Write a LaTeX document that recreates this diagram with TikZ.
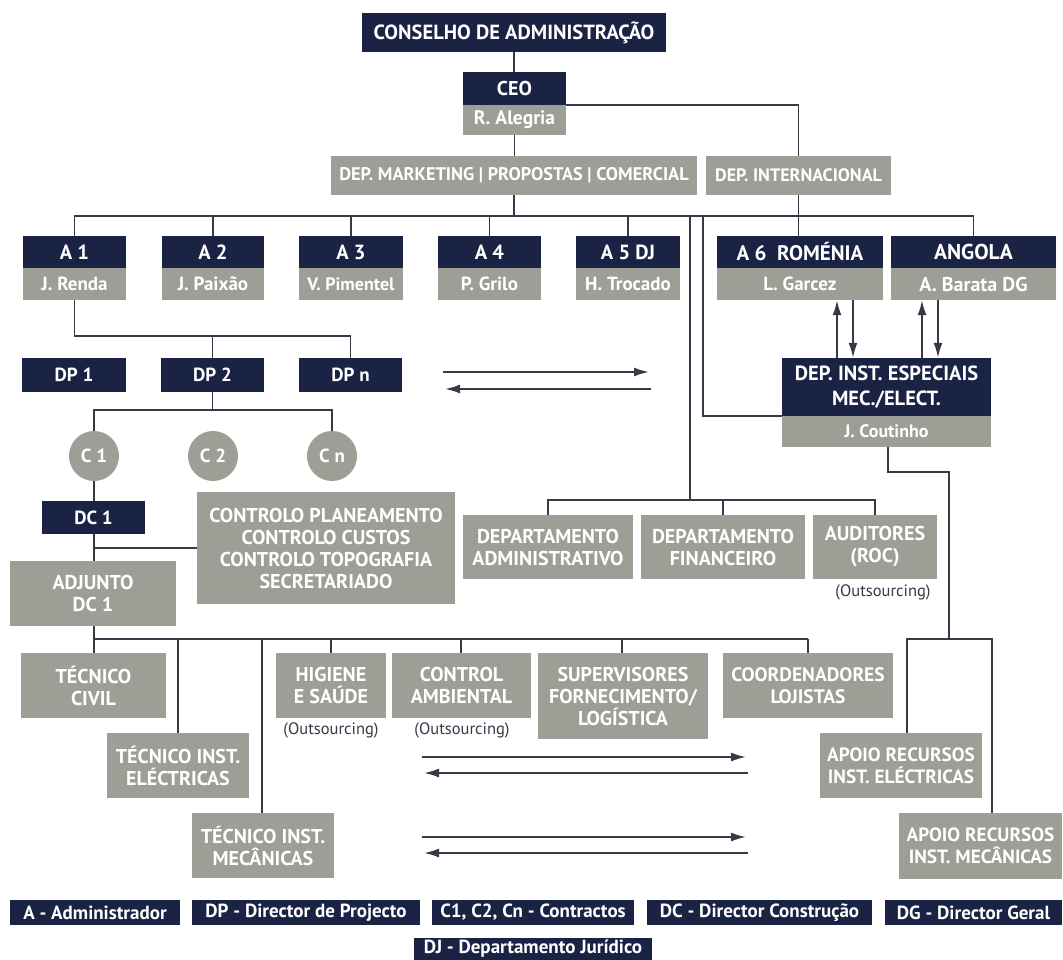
\documentclass[tikz,border=0pt]{standalone}
\usepackage{fontspec}
\setmainfont{PT Sans}
\usetikzlibrary{arrows.meta}
\definecolor{navy}{RGB}{27,35,68}
\definecolor{stone}{RGB}{158,158,150}
\definecolor{wirec}{RGB}{55,57,70}
\newcommand\mybox[7]{\node[#1,minimum width={(#5-#4)*1pt},minimum height={(#7-#6)*1pt}] (#2) at ({(#4+#5)/2},{(#6+#7)/2}) {#3};}
\begin{document}
\begin{tikzpicture}[x=1pt,y=-1pt,
  fsz/.style={font=\bfseries\fontsize{#1}{22}\selectfont},
  box/.style={rectangle,inner sep=0pt,align=center,text=white,fsz=19},
  nbox/.style={box,fill=navy},
  gbox/.style={box,fill=stone},
  bigg/.style={gbox,fsz=20},
  leg/.style={nbox,fsz=19},
  circ/.style={circle,fill=stone,text=white,inner sep=0pt,minimum size=50pt,fsz=19},
  wire/.style={draw=wirec,line width=1.8pt},
  arr/.style={wire,-{Latex[length=15pt,width=9pt]}},
  note/.style={inner sep=0pt,text=wirec,font=\fontsize{16.5}{18}\selectfont}]
\useasboundingbox (0,0) rectangle (1063,960);
\fill[white] (0,0) rectangle (1063,960);
% top
\mybox{nbox,fsz=20.5}{cons}{CONSELHO DE ADMINISTRAÇÃO}{362}{666}{13}{52}
\mybox{nbox,fsz=20}{ceo}{CEO}{463}{566}{72}{105}
\mybox{gbox,fsz=19.5}{ceoN}{R. Alegria}{463}{566}{105}{135}
\mybox{gbox,fsz=18.3}{mkt}{DEP. MARKETING | PROPOSTAS | COMERCIAL}{331}{697}{156}{195}
\mybox{gbox,fsz=18}{intl}{DEP. INTERNACIONAL}{706}{891}{156}{195}
% A row
\mybox{nbox,fsz=20.5}{a1}{A 1}{23}{126}{236}{268}
\mybox{gbox}{a1n}{J. Renda}{23}{126}{268}{300}
\mybox{nbox,fsz=20.5}{a2}{A 2}{162}{264}{236}{268}
\mybox{gbox}{a2n}{J. Paixão}{162}{264}{268}{300}
\mybox{nbox,fsz=20.5}{a3}{A 3}{299}{403}{236}{268}
\mybox{gbox,fsz=18}{a3n}{V. Pimentel}{299}{403}{268}{300}
\mybox{nbox,fsz=20.5}{a4}{A 4}{438}{541}{236}{268}
\mybox{gbox}{a4n}{P. Grilo}{438}{541}{268}{300}
\mybox{nbox,fsz=20.5}{a5}{A 5 DJ}{576}{680}{236}{268}
\mybox{gbox}{a5n}{H. Trocado}{576}{680}{268}{300}
\mybox{nbox,fsz=21}{a6}{A 6\enspace ROMÉNIA}{717}{883}{236}{268}
\mybox{gbox}{a6n}{L. Garcez}{717}{883}{268}{300}
\mybox{nbox,fsz=21.5}{ang}{ANGOLA}{891}{1056}{236}{268}
\mybox{gbox,fsz=20}{angn}{A. Barata DG}{891}{1056}{268}{300}
% DP row
\mybox{nbox}{dp1}{DP 1}{22}{126}{358}{392}
\mybox{nbox}{dp2}{DP 2}{161}{264}{358}{392}
\mybox{nbox}{dpn}{DP n}{299}{402}{358}{392}
\node[circ] (c1) at (94,456) {C 1};
\node[circ] (c2) at (213,456) {C 2};
\node[circ] (cn) at (332,456) {C n};
\mybox{nbox}{dc1}{DC 1}{42}{145}{501}{534}
\mybox{bigg}{ctrl}{CONTROLO PLANEAMENTO\\CONTROLO CUSTOS\\CONTROLO TOPOGRAFIA\\SECRETARIADO}{197}{455}{492}{604}
\mybox{bigg}{adj}{ADJUNTO\\DC 1}{10}{176}{561}{626}
% departments
\mybox{bigg}{adm}{DEPARTAMENTO\\ADMINISTRATIVO}{463}{633}{515}{579}
\mybox{bigg}{fin}{DEPARTAMENTO\\FINANCEIRO}{641}{805}{515}{579}
\mybox{bigg}{aud}{AUDITORES\\(ROC)}{813}{937}{515}{579}
\node[note] (audo) at (883,592) {(Outsourcing)};
\mybox{nbox,font=\bfseries\fontsize{20.5}{25}\selectfont}{dinst}{DEP. INST. ESPECIAIS\\MEC./ELECT.}{782}{991}{358}{416}
\mybox{gbox,fsz=18}{dinstn}{J. Coutinho}{782}{991}{416}{447}
% lower row
\mybox{bigg}{tciv}{TÉCNICO\\CIVIL}{21}{166}{653}{718}
\mybox{bigg}{tele}{TÉCNICO INST.\\ELÉCTRICAS}{107}{249}{733}{798}
\mybox{bigg}{tmec}{TÉCNICO INST.\\MECÂNICAS}{192}{334}{813}{878}
\mybox{bigg}{hig}{HIGIENE\\E SAÚDE}{276}{386}{653}{718}
\node[note] (higo) at (331,730) {(Outsourcing)};
\mybox{bigg}{amb}{CONTROL\\AMBIENTAL}{392}{531}{653}{718}
\node[note] (ambo) at (462,730) {(Outsourcing)};
\mybox{bigg}{sup}{SUPERVISORES\\FORNECIMENTO/\\LOGÍSTICA}{538}{708}{653}{739}
\mybox{bigg,fsz=19.5}{coord}{COORDENADORES\\LOJISTAS}{723}{893}{653}{718}
\mybox{bigg,fsz=19.2}{apel}{APOIO RECURSOS\\INST. ELÉCTRICAS}{820}{982}{733}{798}
\mybox{bigg,fsz=19.2}{apme}{APOIO RECURSOS\\INST. MECÂNICAS}{899}{1062}{813}{879}
% legend
\mybox{leg}{lga}{A - Administrador}{10}{180}{900}{925}
\mybox{leg}{lgdp}{DP - Director de Projecto}{192}{420}{900}{925}
\mybox{leg}{lgc}{C1, C2, Cn - Contractos}{432}{634}{900}{925}
\mybox{leg}{lgdc}{DC - Director Construção}{647}{872}{900}{925}
\mybox{leg}{lgdg}{DG - Director Geral}{885}{1062}{900}{925}
\mybox{leg}{lgdj}{DJ - Departamento Jurídico}{414}{652}{938}{960}
% connectors top
\draw[wire] (cons.south) -- (cons.south |- ceo.north);
\draw[wire] (ceoN.south) -- (ceoN.south |- mkt.north);
\draw[wire] (ceo.south east) -| (intl.north);
\draw[wire] (mkt.south) -- ++(0,21);
\draw[wire] (a1.north) -- ++(0,-20) -| (ang.north);
\foreach \n in {a2,a3,a4,a5} \draw[wire] (\n.north) -- ++(0,-20);
\draw[wire] (intl.south) -- (intl.south |- a6.north);
% verticals to departments and DEP INST
\coordinate (v1) at (690,216);
\coordinate (v2) at (703,216);
\coordinate (dbus) at (690,500);
\draw[wire] (v1) -- (dbus);
\draw[wire] (adm.north) |- (dbus) -| (aud.north);
\draw[wire] (fin.north) -- (fin.north |- dbus);
\draw[wire] (v2) |- (dinst.south west);
% arrows A6/Angola <-> DEP INST
\coordinate (u1) at (837,0); \coordinate (d1) at (853,0);
\coordinate (u2) at (922,0); \coordinate (d2) at (938,0);
\draw[arr] (u1 |- dinst.north) -- (u1 |- a6n.south);
\draw[arr] (d1 |- a6n.south) -- (d1 |- dinst.north);
\draw[arr] (u2 |- dinst.north) -- (u2 |- angn.south);
\draw[arr] (d2 |- angn.south) -- (d2 |- dinst.north);
% A1 -> DP
\draw[wire] (a1n.south) -- ++(0,36) -| (dpn.north);
\draw[wire] (dp2.north) -- ++(0,-22);
% DP2 -> C
\draw[wire] (dp2.south) -- ++(0,18);
\draw[wire] (c1.north) -- ++(0,-21) -| (cn.north);
\draw[wire] (c1.south) -- (c1.south |- dc1.north);
\draw[wire] (dc1.south -| c1.south) -- (c1.south |- adj.north);
\coordinate (br) at (94,548);
\draw[wire] (br) -- (br -| ctrl.west);
% lower bus
\coordinate (lb) at (94,639);
\draw[wire] (adj.south -| lb) -- (lb) -- (lb -| coord.north);
\draw[wire] (lb) -- (lb |- tciv.north);
\foreach \n/\xx in {tele/178,tmec/262,hig/331,amb/461,sup/622,coord/808}{
  \coordinate (t\n) at (\xx,639);
  \draw[wire] (t\n) -- (t\n |- \n.north);}
% Coutinho branch
\coordinate (jc1) at (888,472);
\coordinate (jc2) at (949,639);
\coordinate (ae) at (907,639);
\coordinate (am) at (992,639);
\draw[wire] (dinstn.south -| jc1) -- (jc1) -| (jc2);
\draw[wire] (ae |- apel.north) -- (ae) -- (am) -- (am |- apme.north);
% horizontal arrow pairs
\coordinate (h1a) at (443,372); \coordinate (h1b) at (649,372);
\coordinate (h1c) at (651,389); \coordinate (h1d) at (445,389);
\draw[arr] (h1a) -- (h1b);
\draw[arr] (h1c) -- (h1d);
\coordinate (h2a) at (422,757); \coordinate (h2b) at (746,757);
\coordinate (h2c) at (748,773); \coordinate (h2d) at (424,773);
\draw[arr] (h2a) -- (h2b);
\draw[arr] (h2c) -- (h2d);
\coordinate (h3a) at (422,837); \coordinate (h3b) at (746,837);
\coordinate (h3c) at (748,853); \coordinate (h3d) at (424,853);
\draw[arr] (h3a) -- (h3b);
\draw[arr] (h3c) -- (h3d);
\end{tikzpicture}
\end{document}
